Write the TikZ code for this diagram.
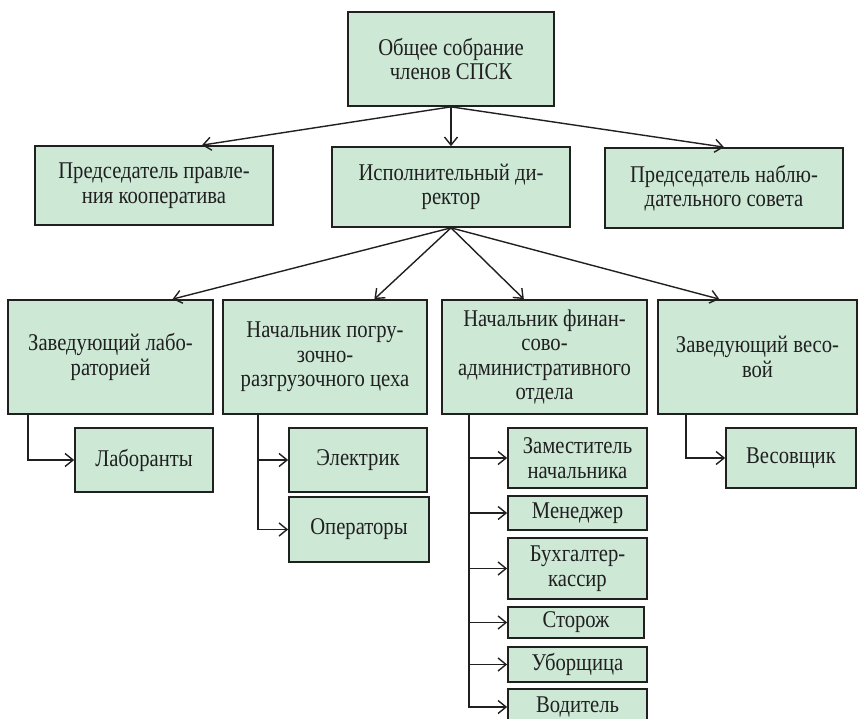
\documentclass[tikz,border=0pt]{standalone}
\usepackage{fontspec}
\setmainfont{Liberation Serif}[FakeStretch=0.86]
\usetikzlibrary{arrows.meta,calc}
\definecolor{boxfill}{RGB}{206,232,214}
\definecolor{ink}{RGB}{32,32,32}
\tikzset{
  box/.style={draw=ink, line width=1.7pt, fill=boxfill, align=center, inner sep=0pt,
    text=ink, font=\fontsize{24}{24.5}\selectfont},
  arr/.style={draw=ink, line width=1.4pt,
    -{Straight Barb[length=8pt,width=13pt,line width=1.4pt]}},
}
\begin{document}
\begin{tikzpicture}[x=1pt,y=-1pt]
\useasboundingbox (0,0) rectangle (859,719);
\clip (0,0) rectangle (859,719);
% top level
\node[box, minimum width=206pt, minimum height=94pt] (top) at (451,59) {Общее собрание\\членов СПСК};
% second row
\node[box, minimum width=238pt, minimum height=79pt] (pred) at (154,185.5) {Председатель правле-\\ния кооператива};
\node[box, minimum width=238pt, minimum height=80pt] (dir) at (451,187) {Исполнительный ди-\\ректор};
\node[box, minimum width=238pt, minimum height=80pt] (nab) at (724,188) {Председатель наблю-\\дательного совета};
% third row
\node[box, minimum width=205pt, minimum height=114pt] (lab) at (110.5,357) {Заведующий лабо-\\раторией};
\node[box, minimum width=204pt, minimum height=114pt] (pogr) at (325,357) {Начальник погру-\\зочно-\\разгрузочного цеха};
\node[box, minimum width=205pt, minimum height=114pt] (fin) at (544.5,357) {Начальник финан-\\сово-\\административного\\отдела};
\node[box, minimum width=199pt, minimum height=114pt] (ves) at (757.5,357) {Заведующий весо-\\вой};
% sub boxes
\node[box, minimum width=138pt, minimum height=64pt] (laborant) at (144,460) {Лаборанты};
\node[box, minimum width=138pt, minimum height=64pt] (elektrik) at (358,460) {Электрик};
\node[box, minimum width=140pt, minimum height=65pt] (operatory) at (359,529.5) {Операторы};
\node[box, minimum width=139pt, minimum height=60pt] (zam) at (577.5,458) {Заместитель\\начальника};
\node[box, minimum width=139pt, minimum height=34pt] (men) at (577.5,513) {Менеджер};
\node[box, minimum width=139pt, minimum height=61pt] (buh) at (577.5,568.5) {Бухгалтер-\\кассир};
\node[box, minimum width=136pt, minimum height=31pt] (storozh) at (576,622.5) {Сторож};
\node[box, minimum width=139pt, minimum height=35pt] (ubor) at (577.5,664.5) {Уборщица};
\node[box, minimum width=139pt, minimum height=36pt] (vod) at (577.5,707) {Водитель};
\node[box, minimum width=130pt, minimum height=60pt] (vesovshik) at (791,458) {Весовщик};
% connectors top -> second row
\draw[arr] (top.south) -- ($(pred.north west)!0.7!(pred.north east)$);
\draw[arr] (top.south) -- (dir.north);
\draw[arr] (top.south) -- (nab.north);
% director -> third row
\draw[arr] (dir.south) -- ($(lab.north west)!0.8!(lab.north east)$);
\draw[arr] (dir.south) -- ($(pogr.north west)!0.74!(pogr.north east)$);
\draw[arr] (dir.south) -- ($(fin.north west)!0.4!(fin.north east)$);
\draw[arr] (dir.south) -- ($(ves.north west)!0.31!(ves.north east)$);
% elbows
\draw[arr] ([xshift=21pt]lab.south west) |- (laborant.west);
\draw[arr] ([xshift=36pt]pogr.south west) |- (elektrik.west);
\draw[arr] ([xshift=36pt]pogr.south west) |- (operatory.west);
\foreach \n in {zam,men,buh,storozh,ubor,vod}
  \draw[arr] ([xshift=28pt]fin.south west) |- (\n.west);
\draw[arr] ([xshift=29pt]ves.south west) |- (vesovshik.west);
\end{tikzpicture}
\end{document}
